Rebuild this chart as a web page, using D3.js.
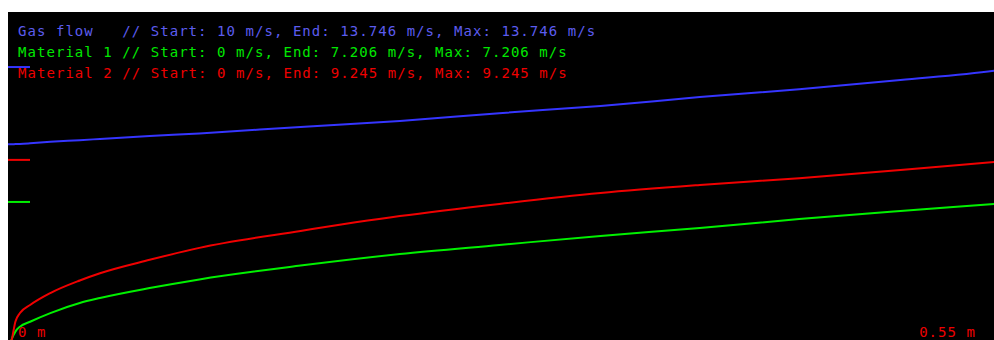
<!DOCTYPE html>
<html>
<head>
<meta charset="utf-8">
<script src="https://cdn.jsdelivr.net/npm/d3@7/dist/d3.min.js"></script>
<style>
  html, body { margin: 0; padding: 0; background: #ffffff; }
  svg { display: block; }
  text { font-family: "DejaVu Sans Mono", monospace; font-size: 14px; letter-spacing: 1.05px; white-space: pre; }
</style>
</head>
<body>
<svg id="chart" width="994" height="340"></svg>
<script>
// Distance along the pipe (m)
const distance = [0, 0.002, 0.004, 0.0065, 0.012, 0.023, 0.039, 0.05, 0.077, 0.104,
  0.159, 0.213, 0.267, 0.322, 0.376, 0.43, 0.485, 0.536, 0.55];

// Velocities (m/s)
const gasFlow = [10, 10.0, 10.01, 10.02, 10.05, 10.12, 10.2, 10.26, 10.4, 10.53,
  10.84, 11.13, 11.51, 11.86, 12.29, 12.67, 13.12, 13.57, 13.746];
const material1 = [0, 0.55, 0.92, 1.16, 1.40, 1.82, 2.31, 2.55, 3.03, 3.45,
  4.12, 4.68, 5.12, 5.56, 5.94, 6.38, 6.77, 7.11, 7.206];
const material2 = [0, 0.51, 1.40, 1.82, 2.21, 2.79, 3.40, 3.75, 4.40, 4.98,
  5.80, 6.52, 7.11, 7.64, 8.03, 8.36, 8.75, 9.14, 9.245];

const seriesNames = ["Gas flow", "Material 1", "Material 2"];
const seriesValues = [gasFlow, material1, material2];
const lineColors = ["#3535ff", "#00f000", "#f00000"];
const textColors = ["#5c5cee", "#00e800", "#ee0000"];

const xTickLabels = ["0 m", "0.55 m"];

const svg = d3.select("#chart");
const plot = { left: 8, top: 12, right: 994, bottom: 340 };

const x = d3.scaleLinear().domain([0, 0.55]).range([8, 1020]);
const y = d3.scaleLinear().domain([0, 14]).range([350.6, 61.8]);

svg.append("rect")
  .attr("x", plot.left).attr("y", plot.top)
  .attr("width", plot.right - plot.left).attr("height", plot.bottom - plot.top)
  .attr("fill", "#000000");

svg.append("clipPath").attr("id", "plotClip")
  .append("rect")
  .attr("x", plot.left).attr("y", plot.top)
  .attr("width", plot.right - plot.left).attr("height", plot.bottom - plot.top);

const g = svg.append("g").attr("clip-path", "url(#plotClip)");

const line = d3.line()
  .x((d, i) => x(distance[i]))
  .y(d => y(d))
  .curve(d3.curveMonotoneX);

// velocity curves
seriesValues.forEach((vals, k) => {
  g.append("path")
    .datum(vals)
    .attr("d", line)
    .attr("fill", "none")
    .attr("stroke", lineColors[k])
    .attr("stroke-width", 2);
});

// maximum markers on the left edge
seriesValues.forEach((vals, k) => {
  const m = d3.max(vals);
  g.append("line")
    .attr("x1", plot.left).attr("x2", plot.left + 22)
    .attr("y1", y(m)).attr("y2", y(m))
    .attr("stroke", lineColors[k])
    .attr("stroke-width", 2);
});

// legend with summary values
const fmt = v => String(+v.toFixed(3));
seriesValues.forEach((vals, k) => {
  const label = seriesNames[k].padEnd(10) +
    " // Start: " + fmt(vals[0]) + " m/s, End: " + fmt(vals[vals.length - 1]) +
    " m/s, Max: " + fmt(d3.max(vals)) + " m/s";
  svg.append("text")
    .attr("x", 18)
    .attr("y", 36 + k * 21)
    .attr("fill", textColors[k])
    .text(label);
});

// distance labels
svg.append("text")
  .attr("x", 18).attr("y", 337)
  .attr("fill", "#ee0000")
  .text(xTickLabels[0]);
svg.append("text")
  .attr("x", 976).attr("y", 337)
  .attr("text-anchor", "end")
  .attr("fill", "#ee0000")
  .text(xTickLabels[1]);
</script>
</body>
</html>
